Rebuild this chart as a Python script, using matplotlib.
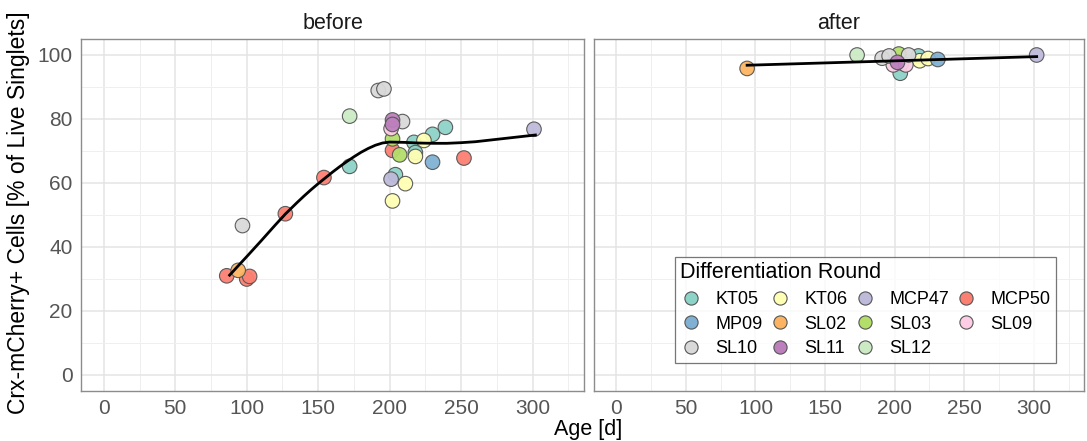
import matplotlib
matplotlib.use("Agg")
import matplotlib.pyplot as plt
from matplotlib.lines import Line2D

plt.rcParams['font.family'] = ['Liberation Sans', 'DejaVu Sans']

# differentiation rounds and their colours (RColorBrewer Set3)
rounds = ['KT05', 'KT06', 'MCP47', 'MCP50', 'MP09', 'SL02',
          'SL03', 'SL09', 'SL10', 'SL11', 'SL12']
round_colors = ['#8DD3C7', '#FFFFB3', '#BEBADA', '#FB8072', '#80B1D3', '#FDB462',
                '#B3DE69', '#FCCDE5', '#D9D9D9', '#BC80BD', '#CCEBC5']

# "before" panel: age [d], % positive, round
before_age = [172, 204, 217, 218, 230, 239,
              202, 211, 218, 224,
              201, 301,
              86, 100, 102, 127, 154, 202, 252,
              230,
              94,
              202, 207,
              201,
              97, 192, 196, 209,
              202, 202,
              172]
before_pct = [65.2, 62.6, 72.7, 69.5, 75.2, 77.4,
              54.4, 59.8, 68.3, 73.3,
              61.2, 76.8,
              31.0, 30.0, 30.8, 50.4, 61.7, 70.2, 67.8,
              66.5,
              32.7,
              73.8, 68.8,
              77.0,
              46.7, 88.9, 89.4, 79.2,
              79.7, 78.3,
              80.9]
before_round = ['KT05'] * 6 + ['KT06'] * 4 + ['MCP47'] * 2 + ['MCP50'] * 7 + \
               ['MP09'] + ['SL02'] + ['SL03'] * 2 + ['SL09'] + ['SL10'] * 4 + \
               ['SL11'] * 2 + ['SL12']

# "after" panel
after_age = [204, 217, 218, 224, 302, 205, 231, 94, 203, 199, 208,
             191, 196, 210, 202, 173]
after_pct = [94.3, 99.7, 98.2, 98.9, 100.0, 97.5, 98.6, 95.8, 100.3, 96.9, 96.9,
             99.0, 99.7, 100.0, 97.7, 100.0]
after_round = ['KT05', 'KT05', 'KT06', 'KT06', 'MCP47', 'MCP47', 'MP09', 'SL02',
               'SL03', 'SL09', 'SL09', 'SL10', 'SL10', 'SL10', 'SL11', 'SL12']

# smoothed fit curves
before_fit_age = [88, 95, 100, 110, 120, 127, 135, 140, 145, 150, 155, 160, 165, 170,
                  175, 180, 185, 190, 195, 200, 210, 220, 230, 240, 250, 260,
                  270, 280, 290, 302]
before_fit_pct = [31.2, 34.6, 37.0, 41.9, 46.9, 50.3, 53.8, 55.9, 57.9, 59.8, 61.6, 63.4,
                  65.1, 66.7, 68.2, 69.6, 70.8, 71.8, 72.5, 72.8, 72.7, 72.5, 72.4,
                  72.4, 72.6, 72.9, 73.4, 73.9, 74.4, 75.0]
after_fit_age = [94, 302]
after_fit_pct = [96.8, 99.5]

x_ticks = [0, 50, 100, 150, 200, 250, 300]
y_ticks = [0, 20, 40, 60, 80, 100]

color_of = dict(zip(rounds, round_colors))

W, H = 1087, 441
fig = plt.figure(figsize=(W / 100, H / 100), dpi=100)
ax1 = fig.add_axes([81 / W, (H - 391) / H, (584 - 81) / W, (391 - 39) / H])
ax2 = fig.add_axes([594 / W, (H - 391) / H, (1084 - 594) / W, (391 - 39) / H])


def style_panel(ax, title, show_y):
    ax.set_xlim(-16, 336)
    ax.set_ylim(-5, 105)
    ax.set_xticks(x_ticks)
    ax.set_yticks(y_ticks)
    ax.set_xticks([25, 75, 125, 175, 225, 275, 325], minor=True)
    ax.set_yticks([10, 30, 50, 70, 90], minor=True)
    ax.grid(True, which='major', color='#e4e4e4', linewidth=1.1, zorder=0)
    ax.grid(True, which='minor', color='#efefef', linewidth=0.7, zorder=0)
    ax.set_axisbelow(True)
    ax.tick_params(which='both', length=0, labelsize=15, labelcolor='#555555', pad=6)
    if not show_y:
        ax.tick_params(axis='y', labelleft=False)
    for s in ax.spines.values():
        s.set_color('#8c8c8c')
        s.set_linewidth(1.0)
    ax.set_title(title, fontsize=15.5, color='#1a1a1a', pad=7)


def draw_points(ax, ages, pcts, groups):
    cols = [color_of[g] for g in groups]
    ax.scatter(ages, pcts, s=110, c=cols, edgecolors='#555555', linewidths=0.8,
               alpha=0.95, zorder=3)


style_panel(ax1, 'before', True)
style_panel(ax2, 'after', False)
draw_points(ax1, before_age, before_pct, before_round)
draw_points(ax2, after_age, after_pct, after_round)
ax1.plot(before_fit_age, before_fit_pct, color='black', linewidth=2.0, zorder=4)
ax2.plot(after_fit_age, after_fit_pct, color='black', linewidth=2.0, zorder=4)

fig.text(588 / W, 1 - 430 / H, 'Age [d]', ha='center', va='center', fontsize=15.5)
fig.text(19 / W, 1 - 213 / H, 'Crx-mCherry+ Cells [% of Live Singlets]', rotation=90,
         ha='center', va='center', fontsize=16.5)

# legend in row-major order (4 columns)
ncol = 4
order = []
for c in range(ncol):
    order += list(range(c, len(rounds), ncol))
handles = [Line2D([], [], marker='o', linestyle='', markersize=9.5,
                  markerfacecolor=round_colors[i], markeredgecolor='#555555',
                  markeredgewidth=0.8) for i in order]
labels = [rounds[i] for i in order]
leg = fig.legend(handles, labels, ncol=ncol, title='Differentiation Round',
                 loc='upper left', bbox_to_anchor=(675 / W, 1 - 257 / H),
                 fontsize=13, title_fontsize=15.5, frameon=True, fancybox=False,
                 edgecolor='#555555', borderpad=0.3, handletextpad=0.75,
                 columnspacing=0.35, labelspacing=0.42, handlelength=1.2,
                 borderaxespad=0)
leg.get_frame().set_linewidth(0.9)
leg._legend_box.align = 'left'

fig.savefig('out.png', dpi=100)
